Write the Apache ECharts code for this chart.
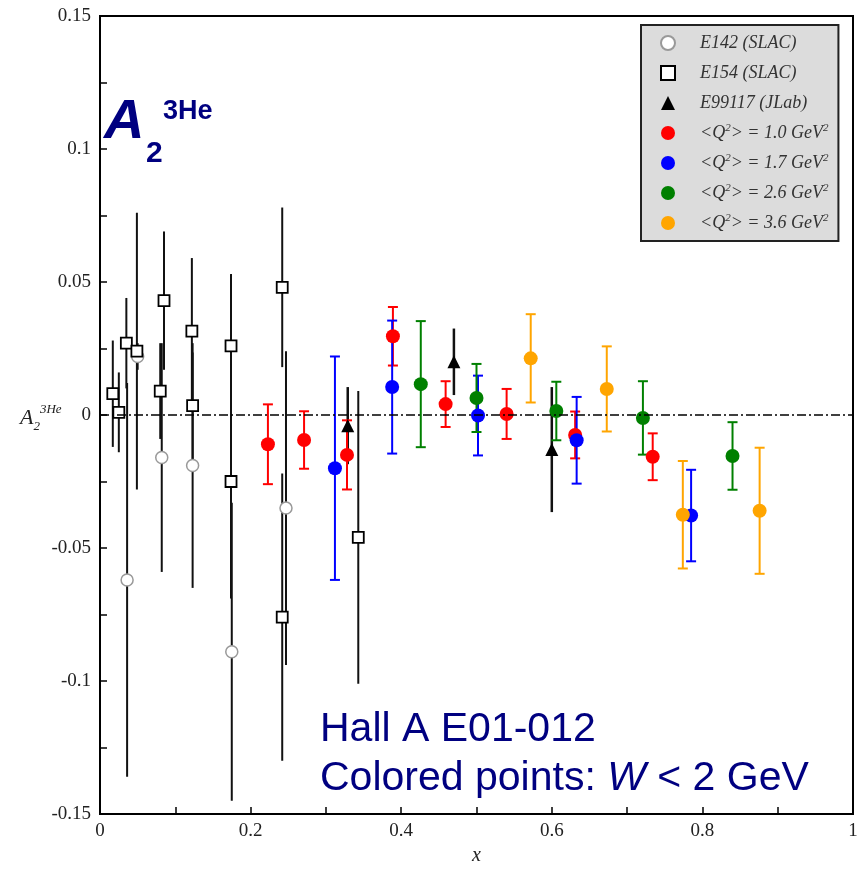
<!DOCTYPE html>
<html><head><meta charset="utf-8">
<script src="https://cdn.jsdelivr.net/npm/echarts@6/dist/echarts.min.js"></script>
<style>html,body{margin:0;padding:0;background:#fff}#c{width:868px;height:871px}</style>
</head><body><div id="c"></div>
<script>
// ---- data ----
const e142X   = [0.036, 0.050, 0.082, 0.123, 0.175, 0.247];
const e142Y   = [-0.062, 0.022, -0.016, -0.019, -0.089, -0.035];
const e142Err = [0.074, 0.005, 0.043, 0.046, 0.056, 0.059];

const e154X   = [0.017, 0.025, 0.035, 0.049, 0.080, 0.085, 0.122, 0.123, 0.174, 0.174, 0.242, 0.242, 0.343];
const e154Y   = [0.008, 0.001, 0.027, 0.024, 0.009, 0.043, 0.0315, 0.0035, 0.026, -0.025, 0.048, -0.076, -0.046];
const e154Err = [0.020, 0.015, 0.017, 0.052, 0.018, 0.026, 0.0275, 0.020, 0.027, 0.044, 0.030, 0.054, 0.055];

const jlabX   = [0.329, 0.470, 0.600];
const jlabY   = [-0.004, 0.020, -0.013];
const jlabErr = [0.0145, 0.0125, 0.0235];

const q10X   = [0.223, 0.271, 0.328, 0.389, 0.459, 0.540, 0.631, 0.734];
const q10Y   = [-0.011, -0.0094, -0.015, 0.0296, 0.0041, 0.0004, -0.0075, -0.0157];
const q10Err = [0.015, 0.0108, 0.013, 0.011, 0.0086, 0.0094, 0.0088, 0.0088];

const q17X   = [0.312, 0.388, 0.502, 0.633, 0.785];
const q17Y   = [-0.020, 0.0105, -0.0002, -0.0095, -0.0378];
const q17Err = [0.042, 0.025, 0.015, 0.0163, 0.0172];

const q26X   = [0.426, 0.500, 0.606, 0.721, 0.840];
const q26Y   = [0.0116, 0.0064, 0.0015, -0.0011, -0.0154];
const q26Err = [0.0237, 0.0128, 0.011, 0.0138, 0.0127];

const q36X   = [0.572, 0.673, 0.774, 0.876];
const q36Y   = [0.0213, 0.0098, -0.0375, -0.036];
const q36Err = [0.0166, 0.016, 0.0202, 0.0237];

const xTicks = [0, 0.2, 0.4, 0.6, 0.8, 1];
const yTicks = [-0.15, -0.1, -0.05, 0, 0.05, 0.1, 0.15];

const names = ['E142 (SLAC)', 'E154 (SLAC)', 'E99117 (JLab)',
  '<Q2> = 1.0 GeV2', '<Q2> = 1.7 GeV2', '<Q2> = 2.6 GeV2', '<Q2> = 3.6 GeV2'];

// ---- helpers ----
const SERIF = 'Liberation Serif, Times New Roman, serif';
const SANS = 'Liberation Sans, Arial, sans-serif';
function pts(xs, ys) { return xs.map((x, i) => [x, ys[i]]); }
function errs(xs, ys, es) { return xs.map((x, i) => [x, ys[i], es[i]]); }

function errSeries(id, xs, ys, es, color, cap, width) {
  return {
    type: 'custom', name: id, silent: true, z: 2,
    data: errs(xs, ys, es),
    encode: { x: 0, y: 1 },
    renderItem: function (params, api) {
      const x = api.value(0), y = api.value(1), e = api.value(2);
      const t = api.coord([x, y + e]), b = api.coord([x, y - e]);
      const st = { stroke: color, lineWidth: width };
      const ch = [{ type: 'line', shape: { x1: t[0], y1: t[1], x2: b[0], y2: b[1] }, style: st }];
      if (cap) {
        ch.push({ type: 'line', shape: { x1: t[0] - cap, y1: t[1], x2: t[0] + cap, y2: t[1] }, style: st });
        ch.push({ type: 'line', shape: { x1: b[0] - cap, y1: b[1], x2: b[0] + cap, y2: b[1] }, style: st });
      }
      return { type: 'group', children: ch };
    }
  };
}
function scat(name, xs, ys, symbol, size, itemStyle, extra) {
  return Object.assign({
    type: 'scatter', name: name, z: 3, symbol: symbol, symbolSize: size,
    data: pts(xs, ys), itemStyle: Object.assign({ opacity: 1 }, itemStyle)
  }, extra || {});
}

const colors = { r: '#ff0000', b: '#0000ff', g: '#008000', o: '#ffa500' };
const fmtX = v => { const k = Math.round(v * 10); return k % 2 === 0 ? String(+(v.toFixed(1))) : ''; };
const fmtY = v => { const k = Math.round(v / 0.025); return Math.abs(k) % 2 === 0 ? String(+(v.toFixed(2))) : ''; };

const chart = echarts.init(document.getElementById('c'), null, { renderer: 'canvas' });
chart.setOption({
  animation: false,
  backgroundColor: '#fff',
  grid: { left: 100, right: 15, top: 16, bottom: 53, show: true, borderColor: '#000', borderWidth: 2, backgroundColor: 'transparent' },
  xAxis: {
    type: 'value', min: 0, max: 1, interval: 0.1,
    axisLine: { show: true, onZero: false, lineStyle: { color: '#000', width: 2 } },
    axisTick: { show: true, inside: true, length: 7, lineStyle: { color: '#000', width: 1.5 } },
    axisLabel: { formatter: fmtX, fontFamily: SERIF, fontSize: 19, color: '#222', margin: 8, showMaxLabel: true, showMinLabel: true },
    splitLine: { show: false },
    name: 'x', nameLocation: 'middle', nameGap: 32,
    nameTextStyle: { fontFamily: SERIF, fontStyle: 'italic', fontSize: 20, color: '#222' }
  },
  yAxis: {
    type: 'value', min: -0.15, max: 0.15, interval: 0.025,
    axisLine: { show: true, onZero: false, lineStyle: { color: '#000', width: 2 } },
    axisTick: { show: true, inside: true, length: 7, lineStyle: { color: '#000', width: 1.5 } },
    axisLabel: { formatter: fmtY, fontFamily: SERIF, fontSize: 19, color: '#222', margin: 9, showMaxLabel: true, showMinLabel: true },
    splitLine: { show: false }
  },
  legend: {
    orient: 'vertical', left: 641, top: 25,
    backgroundColor: '#dcdcdc', borderColor: '#222', borderWidth: 2,
    padding: [8, 10, 8, 19], itemWidth: 14, itemHeight: 14, itemGap: 10,
    selectedMode: false,
    data: names,
    formatter: function (n) {
      if (n.indexOf('<Q2>') === 0) {
        return '<Q{sup|2}> = ' + n.slice(7, 10) + ' GeV{sup|2}';
      }
      return n;
    },
    textStyle: {
      fontFamily: SERIF, fontStyle: 'italic', fontSize: 18, color: '#333', lineHeight: 20,
      padding: [0, 0, 0, 20],
      rich: { sup: { fontFamily: SERIF, fontStyle: 'italic', fontSize: 11, color: '#333', verticalAlign: 'top', lineHeight: 12 } }
    }
  },
  graphic: [
    { type: 'text', x: 104, y: 123, style: { text: 'A', font: 'italic bold 56px ' + SANS, fill: '#000080', verticalAlign: 'middle', align: 'left' } },
    { type: 'text', x: 146, y: 154, style: { text: '2', font: 'bold 30px ' + SANS, fill: '#000080', verticalAlign: 'middle', align: 'left' } },
    { type: 'text', x: 163, y: 112, style: { text: '3He', font: 'bold 27px ' + SANS, fill: '#000080', verticalAlign: 'middle', align: 'left' } },
    { type: 'text', x: 320, y: 730, style: { text: 'Hall A E01-012', font: '41px ' + SANS, fill: '#000080', verticalAlign: 'middle', align: 'left' } },
    { type: 'text', x: 320, y: 779, style: {
        text: 'Colored points: {i|W} < 2 GeV', font: '41px ' + SANS, fill: '#000080', verticalAlign: 'middle', align: 'left',
        rich: { i: { fontFamily: SANS, fontStyle: 'italic', fontSize: 41, fill: '#000080' } } } },
    { type: 'text', x: 20, y: 418, style: {
        text: '{a|A}{sub|2}{sup|3He}', verticalAlign: 'middle', align: 'left', fill: '#222',
        rich: {
          a: { fontFamily: SERIF, fontStyle: 'italic', fontSize: 22, fill: '#222', lineHeight: 30 },
          sub: { fontFamily: SERIF, fontStyle: 'italic', fontSize: 13, fill: '#222', verticalAlign: 'bottom', lineHeight: 13 },
          sup: { fontFamily: SERIF, fontStyle: 'italic', fontSize: 13, fill: '#222', verticalAlign: 'top', lineHeight: 13 }
        } } }
  ],
  series: [
    errSeries('e142err', e142X, e142Y, e142Err, '#111', 0, 2),
    errSeries('e154err', e154X, e154Y, e154Err, '#111', 0, 2),
    errSeries('jlaberr', jlabX, jlabY, jlabErr, '#111', 0, 2.5),
    errSeries('q10err', q10X, q10Y, q10Err, colors.r, 5, 2),
    errSeries('q17err', q17X, q17Y, q17Err, colors.b, 5, 2),
    errSeries('q26err', q26X, q26Y, q26Err, colors.g, 5, 2),
    errSeries('q36err', q36X, q36Y, q36Err, colors.o, 5, 2),
    scat(names[0], e142X, e142Y, 'circle', 12, { color: '#fff', borderColor: '#999', borderWidth: 1.5 }, {
      markLine: {
        silent: true, symbol: ['none', 'none'], label: { show: false },
        lineStyle: { color: '#000', width: 1.5, type: [9, 3, 2, 3] },
        data: [{ yAxis: 0 }]
      }
    }),
    scat(names[1], e154X, e154Y, 'rect', 11, { color: '#fff', borderColor: '#000', borderWidth: 1.8 }),
    scat(names[2], jlabX, jlabY, 'triangle', 13, { color: '#000' }),
    scat(names[3], q10X, q10Y, 'circle', 14, { color: colors.r }),
    scat(names[4], q17X, q17Y, 'circle', 14, { color: colors.b }),
    scat(names[5], q26X, q26Y, 'circle', 14, { color: colors.g }),
    scat(names[6], q36X, q36Y, 'circle', 14, { color: colors.o })
  ]
});
</script>
</body></html>
